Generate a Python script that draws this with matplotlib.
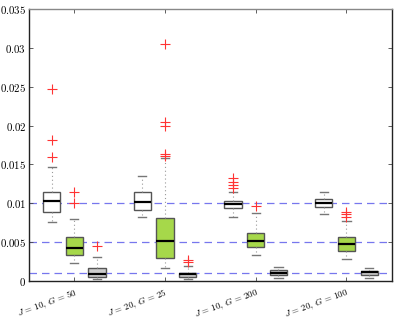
import matplotlib
matplotlib.use("Agg")
import matplotlib.pyplot as plt
import numpy as np

plt.rcParams['mathtext.fontset'] = 'cm'

groups = ["J = 10, G = 50", "J = 20, G = 25", "J = 10, G = 200", "J = 20, G = 100"]
group_labels = [r"$J\,=\,10,\,G\,=\,50$", r"$J\,=\,20,\,G\,=\,25$",
                r"$J\,=\,10,\,G\,=\,200$", r"$J\,=\,20,\,G\,=\,100$"]

# series 1 (white)
s1_whislo = [0.00755, 0.0082, 0.0082, 0.00862]
s1_q1 = [0.00892, 0.00914, 0.00935, 0.00957]
s1_med = [0.0103, 0.01017, 0.0099, 0.0100]
s1_q3 = [0.01142, 0.01142, 0.01026, 0.01055]
s1_whishi = [0.0147, 0.0135, 0.01146, 0.01142]
s1_fliers = [[0.0247, 0.0182, 0.0159], [], [0.0132, 0.0127, 0.0123, 0.0120], []]

# series 2 (green)
s2_whislo = [0.00228, 0.00163, 0.00335, 0.00279]
s2_q1 = [0.00335, 0.00292, 0.00434, 0.0039]
s2_med = [0.00429, 0.00515, 0.00515, 0.00476]
s2_q3 = [0.0057, 0.00815, 0.0062, 0.00562]
s2_whishi = [0.00798, 0.0158, 0.0087, 0.00776]
s2_fliers = [[0.0115, 0.01008], [0.0305, 0.0204, 0.0199, 0.01635, 0.0161], [0.00965], [0.0089, 0.00858, 0.0082]]

# series 3 (grey)
s3_whislo = [0.0002, 0.0002, 0.00035, 0.00035]
s3_q1 = [0.00047, 0.00047, 0.00077, 0.00077]
s3_med = [0.0009, 0.0009, 0.00107, 0.00112]
s3_q3 = [0.00163, 0.00107, 0.00142, 0.00133]
s3_whishi = [0.00305, 0.0019, 0.00184, 0.00163]
s3_fliers = [[0.0045], [0.0027, 0.0024], [], []]

ref_lines = [0.01, 0.005, 0.001]
yticks = [0, 0.005, 0.01, 0.015, 0.02, 0.025, 0.03, 0.035]
ytick_labels = ["0", "0.005", "0.01", "0.015", "0.02", "0.025", "0.03", "0.035"]

series = [
    (s1_whislo, s1_q1, s1_med, s1_q3, s1_whishi, s1_fliers, 'white', -0.25),
    (s2_whislo, s2_q1, s2_med, s2_q3, s2_whishi, s2_fliers, '#a6d84a', 0.0),
    (s3_whislo, s3_q1, s3_med, s3_q3, s3_whishi, s3_fliers, '#cccccc', 0.25),
]

fig = plt.figure(figsize=(3.95, 3.2), dpi=100)
ax = fig.add_axes([0.0734, 0.122, 0.9186, 0.85])

for y in ref_lines:
    ax.axhline(y, color='#7777ee', lw=0.9, ls=(0, (6, 4)), zorder=1)

centers = np.arange(1, len(groups) + 1)
for wl, q1, md, q3, wh, fl, fc, off in series:
    stats = []
    for i in range(len(groups)):
        stats.append(dict(whislo=wl[i], q1=q1[i], med=md[i], q3=q3[i],
                          whishi=wh[i], fliers=fl[i]))
    ax.bxp(stats, positions=centers + off, widths=0.19, patch_artist=True,
           showfliers=True, manage_ticks=False,
           boxprops=dict(facecolor=fc, edgecolor='#555555', lw=1.0),
           medianprops=dict(color='black', lw=1.6),
           whiskerprops=dict(color='#999999', lw=0.8, ls=(0, (1, 2.5))),
           capprops=dict(color='#777777', lw=1.0),
           capwidths=0.09,
           flierprops=dict(marker='+', markeredgecolor='#ff3333', markersize=7,
                           markeredgewidth=0.8, linestyle='none'))

ax.set_xlim(0.5, 4.5)
ax.set_ylim(0, 0.035)
ax.set_yticks(yticks)
ax.set_yticklabels(["$" + t + "$" for t in ytick_labels], fontsize=7.8)
ax.set_xticks(centers)
ax.set_xticklabels(group_labels, rotation=20, ha='right', va='top', fontsize=6.5,
                   rotation_mode='anchor')
ax.tick_params(direction='in', top=True, right=True, length=3, width=0.6,
               color='#444444')
ax.tick_params(axis='x', pad=4)
ax.tick_params(axis='y', pad=2)
for s in ['left', 'right', 'bottom']:
    ax.spines[s].set_color('#222222')
    ax.spines[s].set_linewidth(1.0)
ax.spines['top'].set_color('#888888')
ax.spines['top'].set_linewidth(1.0)

fig.savefig('out.png', dpi=100)
